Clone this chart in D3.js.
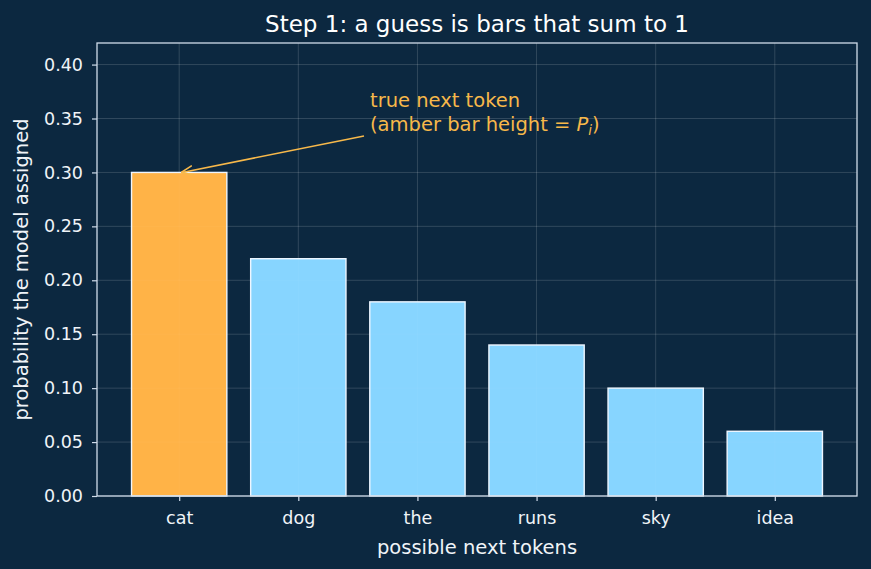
<!DOCTYPE html>
<html lang="en">
  <head>
    <meta charset="utf-8">
    <title>Step 1</title>
    <script src="https://cdn.jsdelivr.net/npm/d3@7"></script>
    <style>
      body { margin: 0; background: #0c2840; }
      text { font-family: "DejaVu Sans", sans-serif; }
      .tick text { fill: #f0f4f8; font-size: 17.5px; }
      .tick line { stroke: #d0dcea; stroke-width: 1.2; }
      .domain { stroke: none; }
    </style>
  </head>
  <body>
    <script>
      var tokens = ["cat", "dog", "the", "runs", "sky", "idea"];
      var probs = [0.30, 0.22, 0.18, 0.14, 0.10, 0.06];
      var trueToken = "cat";
      var yTicks = [0, 0.05, 0.10, 0.15, 0.20, 0.25, 0.30, 0.35, 0.40];

      var w = 871, h = 569;
      var padL = 97, padR = 857, padT = 43, padB = 496;

      var svg = d3.select("body").append("svg")
                  .attr("width", w)
                  .attr("height", h);

      svg.append("rect").attr("width", w).attr("height", h).attr("fill", "#0c2840");

      // bar width 0.8, 5% margins either side
      var xScale = d3.scaleLinear()
                     .domain([-0.69, tokens.length - 1 + 0.69])
                     .range([padL, padR]);
      var yScale = d3.scaleLinear()
                     .domain([0, 0.42])
                     .range([padB, padT]);

      // grid
      var grid = svg.append("g");
      grid.selectAll(".hg").data(yTicks).enter().append("line")
          .attr("x1", padL).attr("x2", padR)
          .attr("y1", function(d) { return yScale(d); })
          .attr("y2", function(d) { return yScale(d); })
          .attr("stroke", "#ffffff").attr("stroke-opacity", 0.16).attr("stroke-width", 0.8);
      grid.selectAll(".vg").data(tokens).enter().append("line")
          .attr("x1", function(d, i) { return xScale(i); })
          .attr("x2", function(d, i) { return xScale(i); })
          .attr("y1", padT).attr("y2", padB)
          .attr("stroke", "#ffffff").attr("stroke-opacity", 0.16).attr("stroke-width", 0.8);

      // bars
      svg.selectAll(".bar").data(probs).enter().append("rect")
         .attr("x", function(d, i) { return xScale(i - 0.4); })
         .attr("width", xScale(0.8) - xScale(0))
         .attr("y", function(d) { return yScale(d); })
         .attr("height", function(d) { return yScale(0) - yScale(d); })
         .attr("fill", function(d, i) { return tokens[i] === trueToken ? "#ffb347" : "#87d5ff"; })
         .attr("stroke", "#eef6ff")
         .attr("stroke-width", 1.4);

      // faint grid showing through the bars
      grid.clone(true).raise().attr("opacity", 0.25);

      // frame
      svg.append("rect")
         .attr("x", padL).attr("y", padT)
         .attr("width", padR - padL).attr("height", padB - padT)
         .attr("fill", "none").attr("stroke", "#d0dcea").attr("stroke-width", 1.3);

      var xAxis = d3.axisBottom(xScale)
                    .tickValues(d3.range(tokens.length))
                    .tickFormat(function(i) { return tokens[i]; })
                    .tickSize(5).tickPadding(11);
      svg.append("g")
         .attr("transform", "translate(0," + padB + ")")
         .call(xAxis);

      var yAxis = d3.axisLeft(yScale)
                    .tickValues(yTicks)
                    .tickFormat(d3.format(".2f"))
                    .tickSize(5).tickPadding(9);
      svg.append("g")
         .attr("transform", "translate(" + padL + ",0)")
         .call(yAxis);

      svg.selectAll(".tick text").attr("font-family", "DejaVu Sans");

      // labels
      svg.append("text")
         .attr("x", (padL + padR) / 2).attr("y", 32)
         .attr("text-anchor", "middle")
         .attr("fill", "#ffffff").attr("font-size", 23)
         .text("Step 1: a guess is bars that sum to 1");

      svg.append("text")
         .attr("x", (padL + padR) / 2).attr("y", 554)
         .attr("text-anchor", "middle")
         .attr("fill", "#f0f4f8").attr("font-size", 19.5)
         .text("possible next tokens");

      svg.append("text")
         .attr("transform", "translate(28," + ((padT + padB) / 2) + ") rotate(-90)")
         .attr("text-anchor", "middle")
         .attr("fill", "#f0f4f8").attr("font-size", 19.5)
         .text("probability the model assigned");

      // annotation
      var amber = "#f7b84a";
      var ti = tokens.indexOf(trueToken);
      svg.append("defs").append("marker")
         .attr("id", "arrow")
         .attr("viewBox", "0 0 10 10")
         .attr("refX", 9).attr("refY", 5)
         .attr("markerWidth", 12).attr("markerHeight", 12)
         .attr("markerUnits", "userSpaceOnUse")
         .attr("orient", "auto")
         .append("path")
         .attr("d", "M0,1 L10,5 L0,9")
         .attr("fill", "none").attr("stroke", amber).attr("stroke-width", 1.4);

      svg.append("line")
         .attr("x1", 364).attr("y1", 136)
         .attr("x2", xScale(ti) + 3).attr("y2", yScale(probs[ti]))
         .attr("stroke", amber).attr("stroke-width", 1.6)
         .attr("marker-end", "url(#arrow)");

      var note = svg.append("text")
                    .attr("fill", amber).attr("font-size", 19.5);
      note.append("tspan").attr("x", 370).attr("y", 107).text("true next token");
      var l2 = note.append("tspan").attr("x", 370).attr("y", 131);
      l2.append("tspan").text("(amber bar height = ");
      l2.append("tspan").attr("font-style", "italic").text("P");
      l2.append("tspan").attr("font-style", "italic").attr("font-size", 13.5).attr("dy", 4).text("i");
      l2.append("tspan").attr("dy", -4).text(")");
    </script>
  </body>
</html>
